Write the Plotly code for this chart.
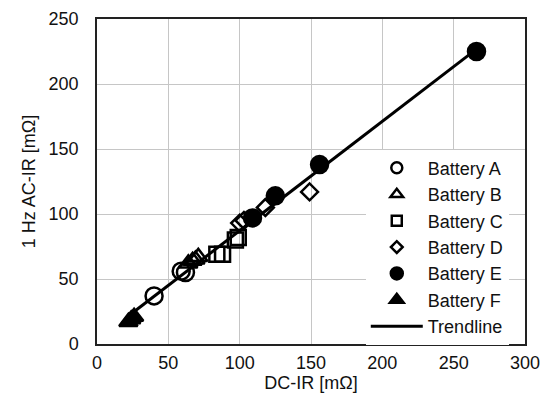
import numpy as np
import plotly.graph_objects as go

a_x = [40, 59, 62]
a_y = [37, 56, 55]
b_x = [64, 67, 69, 71]
b_y = [62, 64, 65, 67]
c_x = [84, 88, 97, 99]
c_y = [69, 69, 80, 82]
d_x = [100, 103, 118, 149]
d_y = [93, 95, 105, 117]
e_x = [109, 125, 156, 266]
e_y = [97, 114, 138, 225]
f_x = [22, 24, 26]
f_y = [17, 19, 21]

series = [
    ("Battery A", a_x, a_y, "circle-open", 17, 11),
    ("Battery B", b_x, b_y, "triangle-up-open", 16, 11),
    ("Battery C", c_x, c_y, "square-open", 15, 10),
    ("Battery D", d_x, d_y, "diamond-open", 13, 9),
    ("Battery E", e_x, e_y, "circle", 17, 12),
    ("Battery F", f_x, f_y, "triangle-up", 16, 12),
]

all_x = np.array(a_x + b_x + c_x + d_x + e_x + f_x, dtype=float)
all_y = np.array(a_y + b_y + c_y + d_y + e_y + f_y, dtype=float)
slope, intercept = np.polyfit(all_x, all_y, 1)
tx = np.array([all_x.min(), all_x.max()])
ty = slope * tx + intercept

fig = go.Figure()
fig.add_trace(go.Scatter(x=tx, y=ty, mode="lines", showlegend=False,
                         line=dict(color="black", width=3)))
for name, xs, ys, sym, sz, lsz in series:
    fig.add_trace(go.Scatter(
        x=xs, y=ys, mode="markers", name=name, showlegend=False,
        marker=dict(symbol=sym, size=sz, color="black",
                    line=dict(color="black", width=2.5)),
    ))
# legend entries (smaller symbols, as in the reference)
for name, xs, ys, sym, sz, lsz in series:
    fig.add_trace(go.Scatter(
        x=[None], y=[None], mode="markers", name=name,
        marker=dict(symbol=sym, size=lsz, color="black",
                    line=dict(color="black", width=2.5)),
    ))
fig.add_trace(go.Scatter(x=[None], y=[None], mode="lines", name="Trendline",
                         line=dict(color="black", width=3)))

font = "Liberation Sans, Arial, sans-serif"
fig.update_layout(
    width=540, height=398,
    margin=dict(l=89, r=23, t=11, b=62, autoexpand=False),
    paper_bgcolor="white", plot_bgcolor="white",
    font=dict(family=font, size=18, color="#111"),
    showlegend=True,
    legend=dict(x=0.628, y=0.598, xanchor="left", yanchor="top",
                bgcolor="white", borderwidth=0,
                font=dict(size=18, family=font, color="#111"),
                tracegroupgap=0, itemwidth=52),
    xaxis=dict(range=[0, 300], dtick=50, showgrid=True, gridcolor="#c6c6c6",
               gridwidth=1.3, showline=True, linecolor="#222", linewidth=1.5,
               mirror=True, ticks="", zeroline=False, ticklabelstandoff=2,
               automargin=False,
               title=dict(text="DC-IR [mΩ]", font=dict(size=18), standoff=4)),
    yaxis=dict(range=[0, 250], dtick=50, showgrid=True, gridcolor="#c6c6c6",
               gridwidth=1.3, showline=True, linecolor="#222", linewidth=1.5,
               mirror=True, ticks="", zeroline=False, ticklabelstandoff=13,
               automargin=False,
               title=dict(text="1 Hz AC-IR [mΩ]", font=dict(size=18), standoff=8)),
)
fig.write_html("out.html")
